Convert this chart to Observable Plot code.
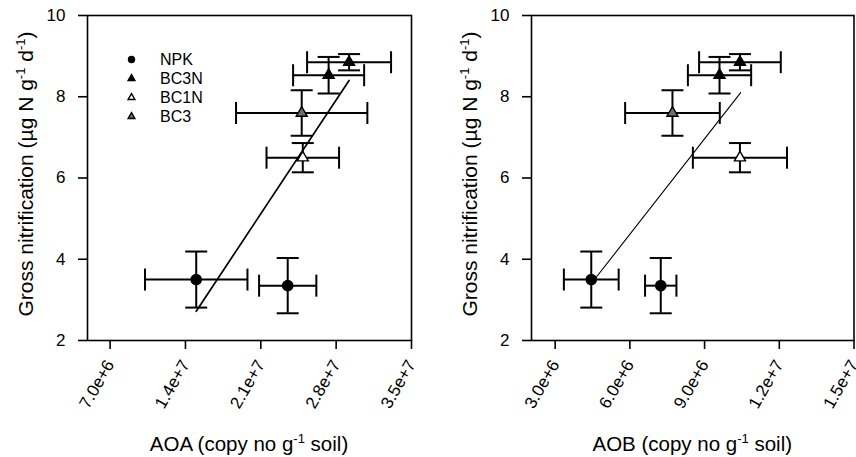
<!DOCTYPE html>
<html><head><meta charset="utf-8">
<script src="https://cdn.jsdelivr.net/npm/d3@7"></script>
<script src="https://cdn.jsdelivr.net/npm/@observablehq/plot@0.6"></script>
<style>
body{margin:0;background:#fff;font-family:"Liberation Sans",Arial,sans-serif;}
#wrap{position:relative;width:856px;height:457px;overflow:hidden;}
.panel{position:absolute;top:0;}
#legend{position:absolute;left:124px;top:50px;font-size:16px;line-height:19px;color:#000;}
#legend div{display:flex;align-items:center;height:19px;}
#legend svg{width:15px;height:15px;margin-right:21px;}
</style></head><body><div id="wrap"></div>
<script>
// ---- data ----
const treatments = ["NPK", "NPK", "BC3N", "BC3N", "BC3", "BC1N"];
const gross      = [3.50, 3.35, 8.85, 8.53, 7.60, 6.50];
const grossErr   = [0.69, 0.68, 0.20, 0.45, 0.56, 0.36];
const aoa        = [1.50e7, 2.35e7, 2.92e7, 2.73e7, 2.48e7, 2.49e7];
const aoaErr     = [4.76e6, 2.66e6, 3.90e6, 3.30e6, 6.10e6, 3.37e6];
const aob        = [4.45e6, 7.24e6, 1.042e7, 9.60e6, 7.71e6, 1.042e7];
const aobErr     = [1.10e6, 0.63e6, 1.64e6, 1.27e6, 1.90e6, 1.89e6];
const aoaFitX    = [1.50e7, 2.92e7];
const aoaFitY    = [2.72, 8.40];
const aobFitX    = [4.50e6, 1.045e7];
const aobFitY    = [3.44, 8.10];
const yTicks     = [2, 4, 6, 8, 10];
const aoaTicks   = [7e6, 1.4e7, 2.1e7, 2.8e7, 3.5e7];
const aobTicks   = [3e6, 6e6, 9e6, 1.2e7, 1.5e7];
const legendLabels = ["NPK", "BC3N", "BC1N", "BC3"];
const symbolOf = {NPK: "circle", BC3N: "triangle", BC1N: "triangle", BC3: "triangle"};
const fillOf   = {NPK: "black", BC3N: "black", BC1N: "white", BC3: "#6e6e6e"};

const FONT = '"Liberation Sans", Arial, sans-serif';
const hcap = {draw(ctx, size){ const r = Math.sqrt(size/Math.PI); ctx.moveTo(-r,0); ctx.lineTo(r,0); }};
const vcap = {draw(ctx, size){ const r = Math.sqrt(size/Math.PI); ctx.moveTo(0,-r); ctx.lineTo(0,r); }};

function panel(xs, xe, fitX, fitY, xdomain, xticks, xname, mLeft, mRight, fitW) {
  const rows = treatments.map((t, i) => ({t, x: xs[i], xe: xe[i], y: gross[i], ye: grossErr[i]}));
  const fit = fitX.map((x, i) => ({x, y: fitY[i]}));
  const yCaps = rows.flatMap(d => [{x: d.x, y: d.y - d.ye}, {x: d.x, y: d.y + d.ye}]);
  const xCaps = rows.flatMap(d => [{x: d.x - d.xe, y: d.y}, {x: d.x + d.xe, y: d.y}]);
  const circles = rows.filter(d => symbolOf[d.t] === "circle");
  const tris = rows.filter(d => symbolOf[d.t] === "triangle");
  const svg = Plot.plot({
    width: 428, height: 457,
    marginLeft: mLeft, marginRight: mRight, marginTop: 15, marginBottom: 117,
    style: {fontFamily: FONT, fontSize: "17px", color: "black", background: "white", overflow: "visible"},
    x: {domain: xdomain},
    y: {domain: [2, 10]},
    marks: [
      Plot.axisY({ticks: yTicks, tickSize: 9, tickPadding: 13, strokeWidth: 1.6, label: null, fontSize: 17}),
      Plot.axisX({ticks: xticks, tickFormat: d3.format(".1e"), tickRotate: -60, tickSize: 9, tickPadding: 12, strokeWidth: 1.6, label: null, fontSize: 17}),
      Plot.ruleX(rows, {x: "x", y1: d => d.y - d.ye, y2: d => d.y + d.ye, stroke: "black", strokeWidth: 2}),
      Plot.ruleY(rows, {y: "y", x1: d => d.x - d.xe, x2: d => d.x + d.xe, stroke: "black", strokeWidth: 2}),
      Plot.dot(yCaps, {x: "x", y: "y", symbol: hcap, r: 11, stroke: "black", strokeWidth: 2, fill: "none"}),
      Plot.dot(xCaps, {x: "x", y: "y", symbol: vcap, r: 11, stroke: "black", strokeWidth: 2, fill: "none"}),
      Plot.line(fit, {x: "x", y: "y", stroke: "black", strokeWidth: fitW}),
      Plot.dot(circles, {x: "x", y: "y", r: 5.8, fill: d => fillOf[d.t], stroke: "none"}),
      Plot.dot(tris, {x: "x", y: "y", symbol: "triangle", r: 4.1, fill: d => fillOf[d.t], stroke: "black", strokeWidth: 1.4}),
      Plot.frame({stroke: "black", strokeWidth: 1.6})
    ]
  });
  const s = d3.select(svg);
  // y axis title
  const yt = s.append("text").attr("transform", `translate(${mLeft - 54},174) rotate(-90)`)
    .attr("text-anchor", "middle").attr("font-size", 21).attr("fill", "black").attr("font-family", FONT);
  yt.append("tspan").text("Gross nitrification (µg N g");
  yt.append("tspan").attr("dy", -8).attr("font-size", 13).text("-1");
  yt.append("tspan").attr("dy", 8).text(" d");
  yt.append("tspan").attr("dy", -8).attr("font-size", 13).text("-1");
  yt.append("tspan").attr("dy", 8).text(")");
  // x axis title
  const xc = (mLeft + 428 - mRight) / 2;
  const xt = s.append("text").attr("x", xc).attr("y", 451)
    .attr("text-anchor", "middle").attr("font-size", 20.5).attr("fill", "black").attr("font-family", FONT);
  xt.append("tspan").text(xname + " (copy no g");
  xt.append("tspan").attr("dy", -8).attr("font-size", 13).text("-1");
  xt.append("tspan").attr("dy", 8).text(" soil)");
  return svg;
}

const wrap = document.getElementById("wrap");
const p1 = panel(aoa, aoaErr, aoaFitX, aoaFitY, [4.9e6, 3.5e7], aoaTicks, "AOA", 87, 17, 1.7);
p1.classList.add("panel"); p1.style.left = "0px";
const p2 = panel(aob, aobErr, aobFitX, aobFitY, [2.05e6, 1.5e7], aobTicks, "AOB", 103, 2.5, 1.1);
p2.classList.add("panel"); p2.style.left = "428px";
wrap.append(p1, p2);

// legend (inside left panel)
const leg = document.createElement("div");
leg.id = "legend";
for (const name of legendLabels) {
  const row = document.createElement("div");
  const sym = d3.create("svg").attr("viewBox", "-7.5 -7.5 15 15");
  const isC = symbolOf[name] === "circle";
  sym.append("path")
    .attr("d", d3.symbol(isC ? d3.symbolCircle : d3.symbolTriangle, isC ? Math.PI * 3.7 * 3.7 : 20)())
    .attr("fill", fillOf[name]).attr("stroke", isC ? "none" : "black").attr("stroke-width", 1.4);
  row.append(sym.node());
  const lab = document.createElement("span");
  lab.textContent = name;
  row.append(lab);
  leg.append(row);
}
wrap.append(leg);
</script></body></html>
